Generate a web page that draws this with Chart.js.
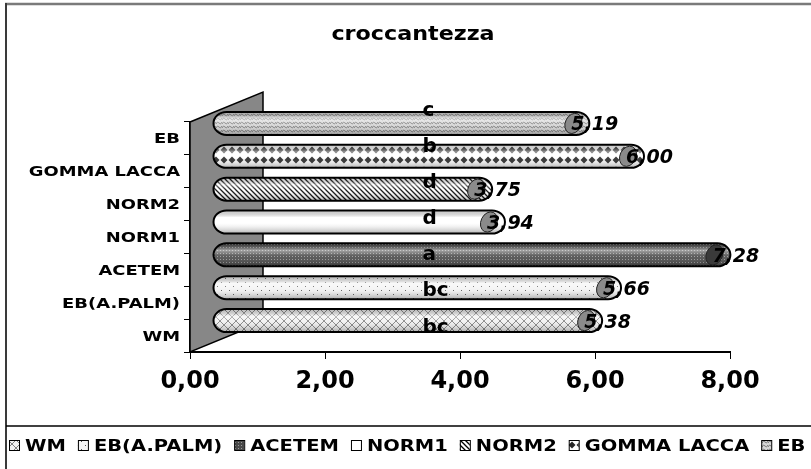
<!DOCTYPE html>
<html>
<head>
<meta charset="utf-8">
<script src="https://cdn.jsdelivr.net/npm/chart.js@4.4.0/dist/chart.umd.min.js"></script>
<style>
  html, body { margin: 0; padding: 0; background: #fff; }
  canvas { display: block; }
</style>
</head>
<body>
<canvas id="chart" width="811" height="469"></canvas>
<script>
// ===== Data =====
const categories = ['WM', 'EB(A.PALM)', 'ACETEM', 'NORM1', 'NORM2', 'GOMMA LACCA', 'EB'];
const values = [5.38, 5.66, 7.28, 3.94, 3.75, 6.00, 5.19];
const letters = ['bc', 'bc', 'a', 'd', 'd', 'b', 'c'];
const xTicks = [0, 2, 4, 6, 8];
const fills = ['cross', 'dots', 'darkdots', 'plain', 'hatch', 'diamond', 'wave'];

// 3D depth of the back wall (bars sit half way in)
const WALL_DX = 73, WALL_DY = -30;
const BAR_DX = 36, BAR_DY = -15;
const FONT = '"DejaVu Sans"';

// ===== Fill patterns =====
function makePattern(kind) {
  const c = document.createElement('canvas');
  const g = c.getContext('2d');
  let w = 8, h = 8;
  if (kind === 'darkdots') { w = 3; h = 3; }
  if (kind === 'hatch') { w = 5; h = 5; }
  if (kind === 'diamond') { w = 8; h = 10; }
  if (kind === 'wave') { w = 6; h = 4; }
  c.width = w; c.height = h;
  g.fillStyle = '#fff';
  g.fillRect(0, 0, w, h);
  if (kind === 'cross') {
    g.fillStyle = '#f0f0f0'; g.fillRect(0, 0, w, h);
    g.strokeStyle = '#808080'; g.lineWidth = 1;
    g.beginPath();
    g.moveTo(0, 0); g.lineTo(8, 8);
    g.moveTo(8, 0); g.lineTo(0, 8);
    g.stroke();
  } else if (kind === 'dots') {
    g.fillStyle = '#f4f4f4'; g.fillRect(0, 0, w, h);
    g.fillStyle = '#555';
    g.fillRect(1, 1, 1, 1); g.fillRect(5, 5, 1, 1);
  } else if (kind === 'darkdots') {
    g.fillStyle = '#4a4a4a'; g.fillRect(0, 0, w, h);
    g.fillStyle = '#9a9a9a'; g.fillRect(1, 1, 1, 1);
  } else if (kind === 'hatch') {
    g.strokeStyle = '#000'; g.lineWidth = 1.3;
    g.beginPath();
    g.moveTo(-1, -1); g.lineTo(6, 6);
    g.moveTo(-1, 4); g.lineTo(1, 6);
    g.moveTo(4, -1); g.lineTo(6, 1);
    g.stroke();
  } else if (kind === 'diamond') {
    g.fillStyle = '#262626';
    g.beginPath();
    g.moveTo(4, 1.5); g.lineTo(7.5, 5); g.lineTo(4, 8.5); g.lineTo(0.5, 5);
    g.closePath(); g.fill();
  } else if (kind === 'wave') {
    g.fillStyle = '#d6d6d6'; g.fillRect(0, 0, w, h);
    g.strokeStyle = '#7a7a7a'; g.lineWidth = 1;
    g.beginPath();
    g.moveTo(0, 3); g.lineTo(1.5, 1); g.lineTo(4.5, 3); g.lineTo(6, 1);
    g.stroke();
  }
  return document.createElement('canvas').getContext('2d').createPattern(c, 'repeat');
}
const patterns = fills.map(makePattern);

function stretchText(ctx, text, x, y, sx, align) {
  ctx.save();
  ctx.translate(x, y);
  ctx.scale(sx, 1);
  ctx.textAlign = align;
  ctx.fillText(text, 0, 0);
  ctx.restore();
}

const fmt = v => v.toFixed(2).replace('.', ',');

// ===== Wall, frame, labels and legend =====
const decorPlugin = {
  id: 'decor',
  beforeDatasetsDraw(chart) {
    const { ctx, chartArea: ca } = chart;
    ctx.save();
    ctx.fillStyle = '#878787';
    ctx.strokeStyle = '#000';
    ctx.lineWidth = 1.5;
    ctx.beginPath();
    ctx.moveTo(ca.left, ca.top);
    ctx.lineTo(ca.left + WALL_DX, ca.top + WALL_DY);
    ctx.lineTo(ca.left + WALL_DX, ca.bottom + WALL_DY);
    ctx.lineTo(ca.left, ca.bottom);
    ctx.closePath();
    ctx.fill();
    ctx.stroke();
    ctx.restore();
  },
  beforeDatasetDraw(chart) {
    chart.ctx.save();
    chart.ctx.translate(BAR_DX, BAR_DY);
  },
  afterDatasetDraw(chart) {
    chart.ctx.restore();
  },
  afterDatasetsDraw(chart) {
    const { ctx } = chart;
    const meta = chart.getDatasetMeta(0);
    const xs = chart.scales.x, ys = chart.scales.y;

    // cylinder ends, shading and outline
    ctx.save();
    ctx.translate(BAR_DX, BAR_DY);
    meta.data.forEach((bar, i) => {
      const { x, y, base, height } = bar.getProps(['x', 'y', 'base', 'height'], true);
      const hh = height / 2, r = 13;
      const path = new Path2D();
      path.moveTo(base, y - hh);
      path.lineTo(x, y - hh);
      path.ellipse(x, y, r, hh, 0, -Math.PI / 2, Math.PI / 2);
      path.lineTo(base, y + hh);
      path.ellipse(base, y, r, hh, 0, Math.PI / 2, Math.PI * 1.5);
      path.closePath();
      ctx.fillStyle = patterns[i];
      ctx.fill(path);
      const sh = ctx.createLinearGradient(0, y - hh, 0, y + hh);
      sh.addColorStop(0, 'rgba(0,0,0,0.18)');
      sh.addColorStop(0.3, 'rgba(255,255,255,0.5)');
      sh.addColorStop(0.55, 'rgba(255,255,255,0.1)');
      sh.addColorStop(1, 'rgba(0,0,0,0.3)');
      ctx.fillStyle = sh;
      ctx.fill(path);
      ctx.strokeStyle = '#000';
      ctx.lineWidth = 2;
      ctx.stroke(path);

      // end face of the cylinder
      ctx.beginPath();
      ctx.ellipse(x - 3, y, 8, hh - 1, 0.45, 0, Math.PI * 2);
      ctx.fillStyle = fills[i] === 'darkdots' ? '#3a3a3a' : '#8a8a8a';
      ctx.fill();
      ctx.strokeStyle = '#222';
      ctx.lineWidth = 1;
      ctx.stroke();

      // value label
      ctx.fillStyle = '#000';
      ctx.font = 'italic bold 19px ' + FONT;
      ctx.textAlign = 'left';
      ctx.fillText(fmt(values[i]), x - 5, y + 7);
    });
    ctx.restore();

    // significance letters
    ctx.save();
    ctx.fillStyle = '#000';
    ctx.font = 'bold 20px ' + FONT;
    ctx.textAlign = 'left';
    letters.forEach((t, i) => {
      ctx.fillText(t, xs.getPixelForValue(3) + BAR_DX - 6, ys.getPixelForValue(i) - 3 - 3.3 * i);
    });
    ctx.restore();
  },
  afterDraw(chart) {
    const { ctx } = chart;
    const ys = chart.scales.y;
    ctx.save();

    // category labels
    ctx.fillStyle = '#000';
    ctx.font = 'bold 14px ' + FONT;
    categories.forEach((c, i) => {
      stretchText(ctx, c, 180, ys.getPixelForValue(i) + 5, 1.28, 'right');
    });

    // title
    ctx.font = 'bold 19px ' + FONT;
    stretchText(ctx, 'croccantezza', 413, 40, 1.17, 'center');

    // outer frame and legend box edge
    ctx.strokeStyle = '#7a7a7a';
    ctx.lineWidth = 2.5;
    ctx.beginPath(); ctx.moveTo(5, 4); ctx.lineTo(811, 4); ctx.stroke();
    ctx.strokeStyle = '#3a3a3a';
    ctx.lineWidth = 2;
    ctx.beginPath(); ctx.moveTo(6, 3); ctx.lineTo(6, 469); ctx.stroke();
    ctx.strokeStyle = '#000';
    ctx.lineWidth = 1.5;
    ctx.beginPath(); ctx.moveTo(6, 426); ctx.lineTo(811, 426); ctx.stroke();

    // legend
    let lx = 9;
    ctx.font = 'bold 15px ' + FONT;
    categories.forEach((c, i) => {
      ctx.fillStyle = patterns[i];
      ctx.fillRect(lx, 440, 10, 10);
      ctx.strokeStyle = '#000';
      ctx.lineWidth = 1;
      ctx.strokeRect(lx + 0.5, 440.5, 10, 10);
      lx += 16;
      ctx.fillStyle = '#000';
      stretchText(ctx, c, lx, 451, 1.3, 'left');
      lx += ctx.measureText(c).width * 1.3 + 12;
    });
    ctx.restore();
  }
};

// ===== Chart =====
const ctx = document.getElementById('chart').getContext('2d');
new Chart(ctx, {
  type: 'bar',
  data: {
    labels: categories,
    datasets: [{
      label: 'croccantezza',
      data: values,
      backgroundColor: patterns,
      borderWidth: 0,
      barPercentage: 0.7,
      categoryPercentage: 1
    }]
  },
  options: {
    indexAxis: 'y',
    responsive: false,
    animation: false,
    layout: { padding: { left: 5, right: 81, top: 122, bottom: 0 } },
    scales: {
      x: {
        min: 0,
        max: 8,
        afterFit: s => { s.height = 117; },
        afterBuildTicks: s => { s.ticks = xTicks.map(v => ({ value: v })); },
        ticks: {
          callback: v => fmt(v),
          color: '#000',
          font: { family: 'DejaVu Sans', weight: 'bold', size: 24 },
          padding: 8,
          maxRotation: 0
        },
        grid: { drawOnChartArea: false, drawTicks: true, tickLength: 7, color: '#000' },
        border: { display: true, color: '#000', width: 2 }
      },
      y: {
        reverse: true,
        afterFit: s => { s.width = 185; },
        ticks: { display: false },
        grid: { drawOnChartArea: false, tickLength: 6, color: '#000', offset: true },
        border: { display: true, color: '#000', width: 2 }
      }
    },
    plugins: {
      legend: { display: false },
      title: { display: false },
      tooltip: { enabled: false }
    }
  },
  plugins: [decorPlugin]
});
</script>
</body>
</html>
